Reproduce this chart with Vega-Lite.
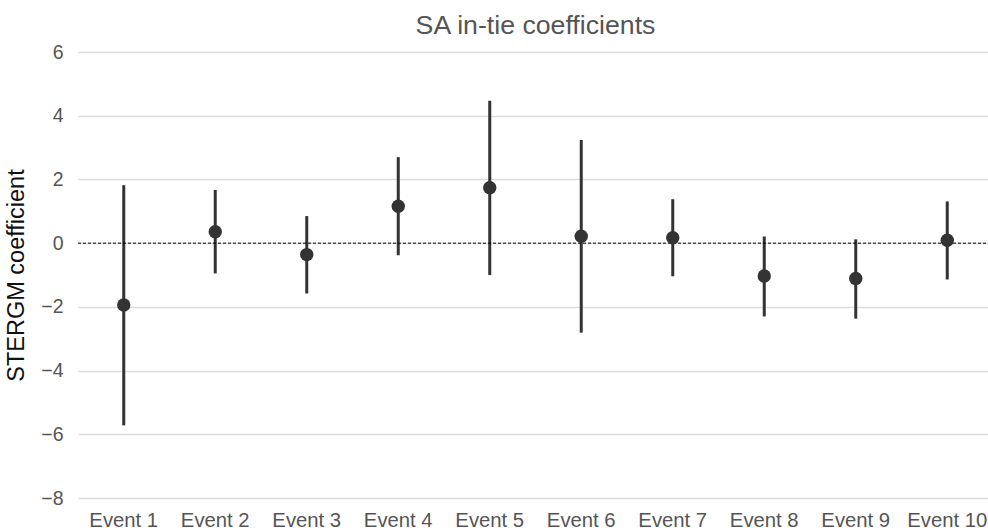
{
  "$schema": "https://vega.github.io/schema/vega-lite/v6.json",
  "width": 915,
  "height": 446,
  "autosize": {"type": "none"},
  "padding": {"left": 78, "top": 52, "right": 0, "bottom": 34},
  "background": "white",
  "title": {"text": "SA in-tie coefficients", "fontSize": 26.7, "font": "Liberation Sans", "fontWeight": "normal", "color": "#555555", "offset": 2, "anchor": "middle"},
  "config": {
    "view": {"stroke": null},
    "font": "Liberation Sans"
  },
  "data": {"values": [
    {"event": "Event 1", "est": -1.94, "lo": -5.72, "hi": 1.82},
    {"event": "Event 2", "est": 0.36, "lo": -0.95, "hi": 1.67},
    {"event": "Event 3", "est": -0.36, "lo": -1.58, "hi": 0.85},
    {"event": "Event 4", "est": 1.16, "lo": -0.38, "hi": 2.70},
    {"event": "Event 5", "est": 1.74, "lo": -1.0, "hi": 4.47},
    {"event": "Event 6", "est": 0.22, "lo": -2.81, "hi": 3.24},
    {"event": "Event 7", "est": 0.17, "lo": -1.04, "hi": 1.38},
    {"event": "Event 8", "est": -1.03, "lo": -2.3, "hi": 0.21},
    {"event": "Event 9", "est": -1.11, "lo": -2.37, "hi": 0.12},
    {"event": "Event 10", "est": 0.09, "lo": -1.14, "hi": 1.31}
  ]},
  "encoding": {
    "x": {"field": "event", "type": "nominal", "sort": null,
      "scale": {"paddingInner": 0, "paddingOuter": 0},
      "axis": {"title": null, "labelAngle": 0, "ticks": false, "domain": false, "grid": false, "labelFontSize": 20.3, "labelColor": "#555555", "labelPadding": 12, "labelFont": "Liberation Sans"}}
  },
  "layer": [
    {
      "mark": {"type": "rule", "color": "#333333", "strokeWidth": 3},
      "encoding": {
        "y": {"field": "lo", "type": "quantitative",
          "scale": {"domain": [-8, 6], "nice": false, "zero": false},
          "axis": {"title": "STERGM coefficient", "titleFontSize": 23.5, "titleFontWeight": "normal", "titleColor": "#111111", "titlePadding": 12, "titleFont": "Liberation Sans",
            "values": [-8, -6, -4, -2, 0, 2, 4, 6], "labelExpr": "replace(datum.label, '-', '\u2212')",
            "labelFontSize": 19.5, "labelColor": "#555555", "labelPadding": 15, "ticks": false, "domain": false,
            "grid": true, "gridColor": "#dddddd", "gridWidth": 1.3, "labelFont": "Liberation Sans"}},
        "y2": {"field": "hi"}
      }
    },
    {
      "data": {"values": [{"v": 0}]},
      "mark": {"type": "rule", "color": "#000000", "strokeWidth": 1, "strokeDash": [3, 2]},
      "encoding": {"y": {"field": "v", "type": "quantitative"}, "x": {"value": 0}, "x2": {"value": 915}}
    },
    {
      "mark": {"type": "point", "filled": true, "color": "#333333", "opacity": 1, "size": 180},
      "encoding": {"y": {"field": "est", "type": "quantitative"}}
    }
  ]
}
